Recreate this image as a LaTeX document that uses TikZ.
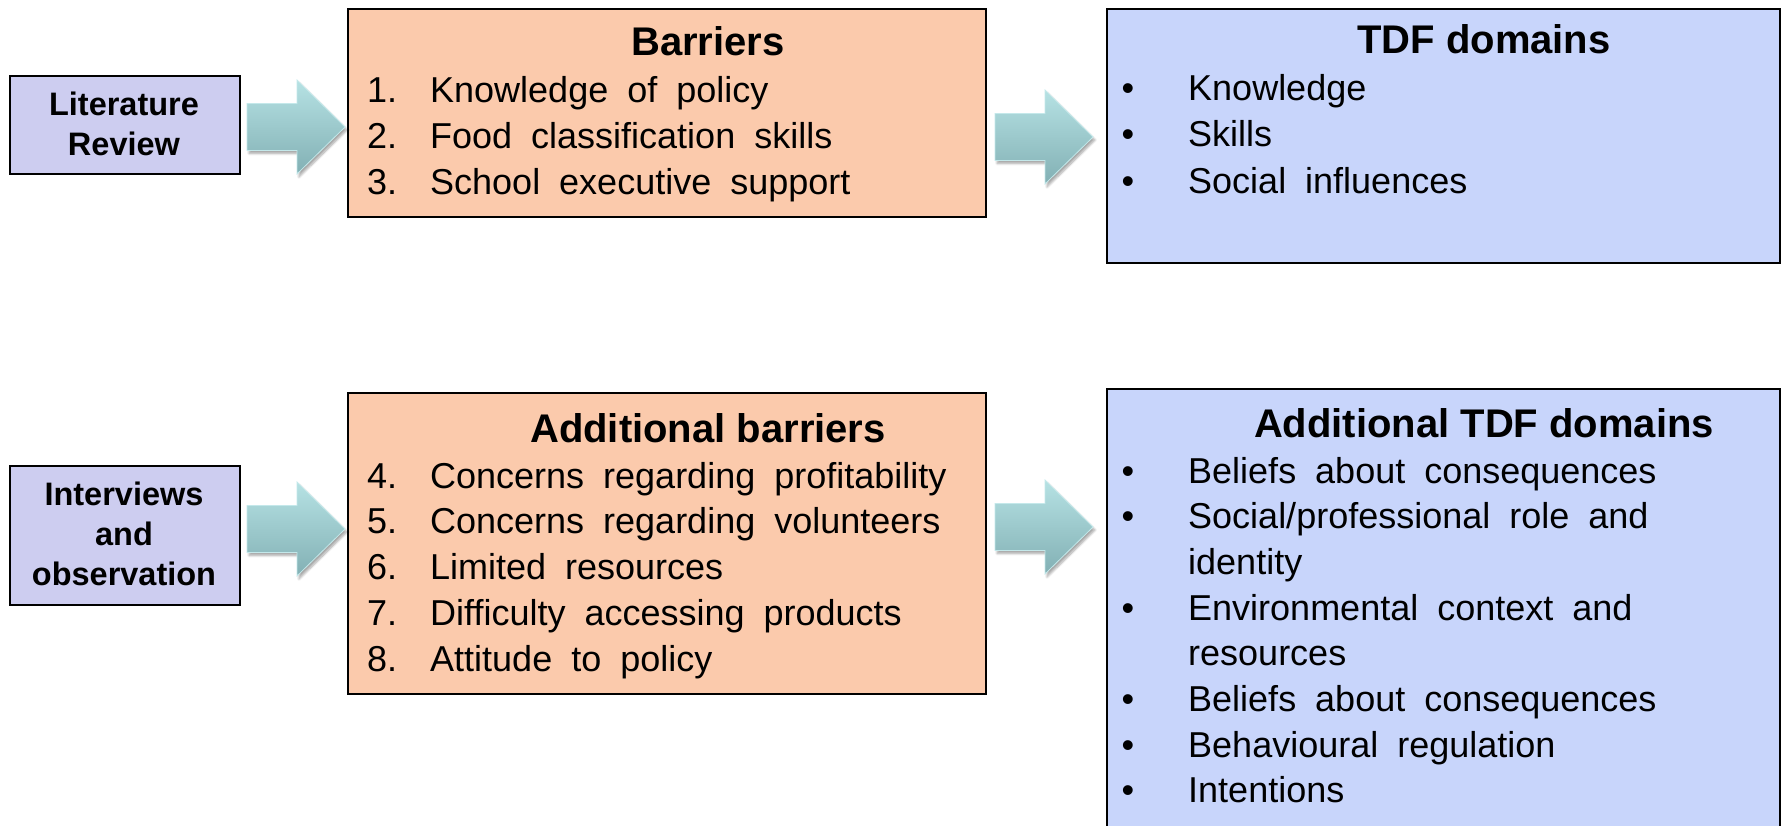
\documentclass[tikz,border=0pt]{standalone}
\usepackage{fontspec}
\setmainfont{Liberation Sans}
\newfontfamily\bodyfont[WordSpace=1.9]{Liberation Sans}
\usetikzlibrary{shadows.blur}

\definecolor{sidefill}{RGB}{205,205,240}
\definecolor{barfill}{RGB}{251,202,172}
\definecolor{tdffill}{RGB}{200,213,251}
\definecolor{arrtop}{RGB}{182,226,228}
\definecolor{arrbot}{RGB}{130,176,180}
\definecolor{arrline}{RGB}{196,232,234}

\tikzset{
  box/.style={draw=black, line width=1.8pt, inner sep=0pt, anchor=north west},
  sidebox/.style={box, fill=sidefill},
  barbox/.style={box, fill=barfill},
  tdfbox/.style={box, fill=tdffill},
  sidetxt/.style={inner sep=0pt, anchor=base, font=\bfseries\fontsize{32.5}{40}\selectfont},
  titletxt/.style={inner sep=0pt, anchor=base, font=\bfseries\fontsize{40}{48}\selectfont},
  itemtxt/.style={inner sep=0pt, anchor=base west, font=\bodyfont\fontsize{36}{44}\selectfont},
  bullettxt/.style={inner sep=0pt, anchor=base, font=\bodyfont\fontsize{36}{44}\selectfont},
  pics/blockarrow/.style={code={
    \shade[top color=arrtop, bottom color=arrbot, draw=arrline, line width=0.8pt,
           blur shadow={shadow xshift=2pt, shadow yshift=-3pt, shadow blur steps=8, shadow opacity=35}]
      (0,-23.5) -- (50,-23.5) -- (50,-47) -- (98,0) -- (50,47) -- (50,23.5) -- (0,23.5) -- cycle;
  }}
}

\begin{document}
\begin{tikzpicture}[x=1pt, y=-1pt]
\useasboundingbox (0,0) rectangle (1785,825);
\clip (0,0) rectangle (1785,825);

% ---- top row -------------------------------------------------------
\node[sidebox, minimum width=230pt, minimum height=98pt] (lit) at (9,75) {};
\node[sidetxt] (lit1) at (124,115) {Literature};
\node[sidetxt] (lit2) at (124,155) {Review};

\node[barbox, minimum width=638pt, minimum height=208pt] (bar) at (347,8) {};
\node[titletxt] (bartitle) at (708,55) {Barriers};
\foreach \nb/\tx [count=\i] in {1./Knowledge of policy, 2./Food classification skills, 3./School executive support} {
  \node[itemtxt] (barnum\i) at (367,{102+46*(\i-1)}) {\nb};
  \node[itemtxt] (baritem\i) at (430,{102+46*(\i-1)}) {\tx};
}

\node[tdfbox, minimum width=673pt, minimum height=254pt] (tdf) at (1106,8) {};
\node[titletxt] (tdftitle) at (1484,53) {TDF domains};
\foreach \tx [count=\i] in {Knowledge, Skills, Social influences} {
  \node[bullettxt] (tdfdot\i) at (1128,{100+46.5*(\i-1)}) {\textbullet};
  \node[itemtxt] (tdfitem\i) at (1188,{100+46.5*(\i-1)}) {\tx};
}

\pic (arrA) at (247,127) {blockarrow};
\pic (arrB) at (995,137) {blockarrow};

% ---- bottom row ----------------------------------------------------
\node[sidebox, minimum width=230pt, minimum height=139pt] (int) at (9,465) {};
\node[sidetxt] (int1) at (124,505) {Interviews};
\node[sidetxt] (int2) at (124,545) {and};
\node[sidetxt] (int3) at (124,585) {observation};

\node[barbox, minimum width=638pt, minimum height=301pt] (addbar) at (347,392) {};
\node[titletxt] (addbartitle) at (708,442) {Additional barriers};
\foreach \nb/\tx [count=\i] in {4./Concerns regarding profitability, 5./Concerns regarding volunteers, 6./Limited resources, 7./Difficulty accessing products, 8./Attitude to policy} {
  \node[itemtxt] (addbarnum\i) at (367,{488+45.8*(\i-1)}) {\nb};
  \node[itemtxt] (addbaritem\i) at (430,{488+45.8*(\i-1)}) {\tx};
}

\node[tdfbox, minimum width=673pt, minimum height=460pt] (addtdf) at (1106,388) {};
\node[titletxt] (addtdftitle) at (1484,437) {Additional TDF domains};
\foreach \tx [count=\i] in {Beliefs about consequences, {Social/professional role and}, identity, Environmental context and, resources, Beliefs about consequences, Behavioural regulation, Intentions} {
  \node[itemtxt] (addtdfitem\i) at (1188,{483+45.7*(\i-1)}) {\tx};
}
\foreach \i in {1,2,4,6,7,8} {
  \node[bullettxt] (addtdfdot\i) at (1128,{483+45.7*(\i-1)}) {\textbullet};
}

\pic (arrC) at (247,529) {blockarrow};
\pic (arrD) at (995,527) {blockarrow};
\end{tikzpicture}
\end{document}
